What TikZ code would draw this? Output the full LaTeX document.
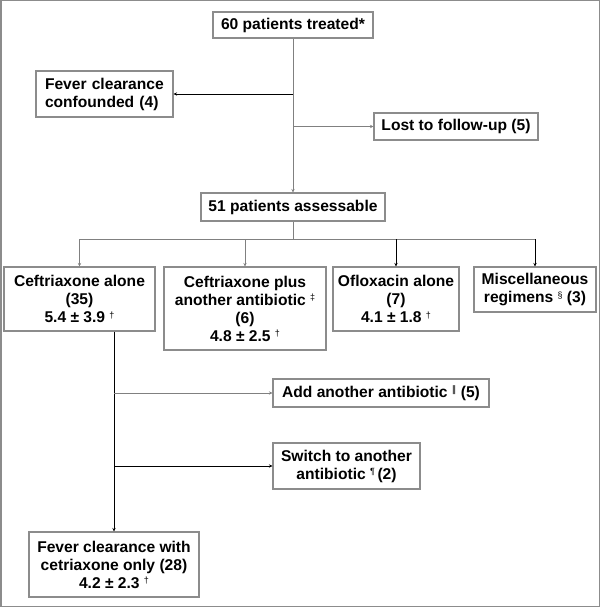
\documentclass[tikz,border=0pt]{standalone}
\usepackage{fontspec}
\setmainfont{Liberation Sans}
\newfontfamily\symfont{DejaVu Sans}
\usetikzlibrary{arrows.meta}

\newlength{\du}
\setlength{\du}{1pt}
\definecolor{boxgray}{rgb}{0.55,0.55,0.55}
\definecolor{linegray}{rgb}{0.50,0.50,0.50}
\newcommand{\mk}[1]{\raisebox{4.5pt}{\normalfont\fontsize{9}{9}\selectfont #1}}

\tikzset{
  flowbox/.style={draw=boxgray, line width=1.1\du, align=center, inner sep=0pt,
    font=\bfseries\fontsize{15.6}{18}\selectfont},
  grayline/.style={draw=linegray, line width=1\du},
  blackline/.style={draw=black, line width=0.9\du},
  arrowtip/.style={-{Stealth[length=3.5pt,width=3.5pt]}}
}

\begin{document}
\begin{tikzpicture}
\pgftransformxscale{1.000000}
\pgftransformyscale{-1.000000}
\useasboundingbox (0\du,0\du) rectangle (600\du,607\du);
% frame
\draw[draw=boxgray, line width=1.5\du] (0.75\du,0.75\du) rectangle (599.25\du,606.25\du);

% boxes
\node[flowbox, minimum width=160\du, minimum height=26\du] (treated) at (293\du,25\du) {60 patients treated*};
\node[flowbox, align=left, text width=119\du, inner xsep=9\du, minimum height=46\du] (confounded) at (104.5\du,94\du) {Fever clearance\\confounded (4)};
\node[flowbox, minimum width=164\du, minimum height=27\du] (lost) at (456\du,126.5\du) {Lost to follow-up (5)};
\node[flowbox, minimum width=184\du, minimum height=28\du] (assessable) at (293\du,207\du) {51 patients assessable};
\node[flowbox, minimum width=151\du, minimum height=64\du] (cefalone) at (79.5\du,299\du) {Ceftriaxone alone\\(35)\\5.4 ± 3.9 \mk{†}};
\node[flowbox, minimum width=162\du, minimum height=83\du] (cefplus) at (245\du,308.5\du) {Ceftriaxone plus\\another antibiotic \mk{‡}\\(6)\\4.8 ± 2.5 \mk{†}};
\node[flowbox, minimum width=126\du, minimum height=64\du] (oflox) at (396\du,299\du) {Ofloxacin alone\\(7)\\4.1 ± 1.8 \mk{†}};
\node[flowbox, minimum width=122\du, minimum height=45\du] (misc) at (535\du,289.5\du) {Miscellaneous\\regimens \mk{§} (3)};
\node[flowbox, minimum width=216\du, minimum height=28\du] (addab) at (381\du,393\du) {Add another antibiotic \mk{\symfont ‖} (5)};
\node[flowbox, minimum width=147\du, minimum height=46\du] (switchab) at (346.5\du,466\du) {Switch to another\\antibiotic \mk{¶}\,(2)};
\node[flowbox, minimum width=170\du, minimum height=65\du] (clearance) at (114\du,564.5\du) {Fever clearance with\\cetriaxone only (28)\\4.2 ± 2.3 \mk{†}};

% connectors
\draw[grayline, arrowtip] (treated.south) -- (assessable.north);
\draw[blackline, arrowtip] (treated.south |- confounded.east) -- (confounded.east);
\draw[grayline, arrowtip] (treated.south |- lost.west) -- (lost.west);

\coordinate (bus) at (293\du,239\du);
\draw[grayline] (assessable.south) -- (bus);
\draw[grayline] (cefalone.north |- bus) -- (misc.north |- bus);
\draw[grayline, arrowtip] (cefalone.north |- bus) -- (cefalone.north);
\draw[grayline, arrowtip] (cefplus.north |- bus) -- (cefplus.north);
\draw[blackline, arrowtip] (oflox.north |- bus) -- (oflox.north);
\draw[blackline, arrowtip] (misc.north |- bus) -- (misc.north);

\draw[blackline, arrowtip] (clearance.north |- cefalone.south) -- (clearance.north);
\draw[grayline, arrowtip] (clearance.north |- addab.west) -- (addab.west);
\draw[blackline, arrowtip] (clearance.north |- switchab.west) -- (switchab.west);
\end{tikzpicture}
\end{document}
